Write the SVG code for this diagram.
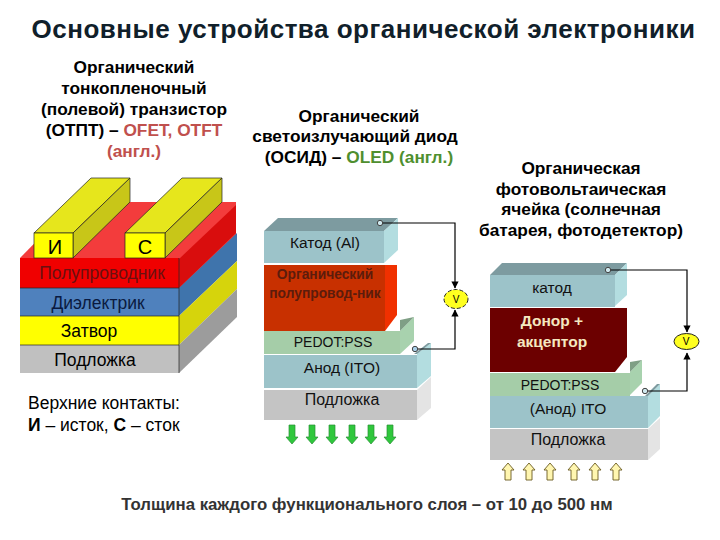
<svg xmlns="http://www.w3.org/2000/svg" width="720" height="540" viewBox="0 0 720 540">
<style>
text{font-family:"Liberation Sans",Arial,sans-serif;text-anchor:middle;fill:#000}
.h{font-weight:bold;font-size:17.3px}
.t{font-size:17.5px}
.s{font-size:15.5px;fill:#111}
.r{fill:#c0504d}
.g{fill:#4f8f2f}
.w{stroke:#000;stroke-width:1.2;fill:none}
.lk{stroke:#222;stroke-width:.7}
</style>
<defs>
<marker id="a" markerWidth="6" markerHeight="6" refX="5.5" refY="3" orient="auto"><path d="M0 0L6 3L0 6Z" fill="#000"/></marker>
<path id="dn" d="M-3 0H3V12H6L0 19L-6 12H-3Z" fill="#2fc73c" stroke="#2a8f35" stroke-width=".7"/>
<path id="up" d="M-3 17H3V7H6L0 0L-6 7H-3Z" fill="#fff6b0" stroke="#6a5a20" stroke-width=".9"/>
</defs>
<rect width="720" height="540" fill="#fff"/>
<text x="363.500" y="38" style="font-size:26px;font-weight:bold;fill:#10202a;letter-spacing:.5px">Основные устройства органической электроники</text>
<g id="title-ofet" class="h">
<text x="134" y="73">Органический</text><text x="134" y="94">тонкопленочный</text><text x="134" y="115">(полевой) транзистор</text>
<text x="134" y="136"><tspan>(ОТПТ) – </tspan><tspan class="r">OFET, OTFT</tspan></text>
<text x="134" y="157" class="r">(англ.)</text>
</g>
<g id="title-oled" class="h">
<text x="359" y="122">Органический</text><text x="355" y="142">светоизлучающий диод</text>
<text x="359" y="163"><tspan>(ОСИД) – </tspan><tspan class="g">OLED (англ.)</tspan></text>
</g>
<g id="title-opv" class="h">
<text x="581" y="174">Органическая</text><text x="581" y="195">фотовольтаическая</text><text x="581" y="215">ячейка (солнечная</text><text x="581" y="236">батарея, фотодетектор)</text>
</g>
<g id="transistor">
<path d="M20 258L75 202H236V256L179 313H20Z" fill="#f33c3c"/>
<path d="M179 259L236 205V233L179 288Z" fill="#d90d0d"/>
<path d="M179 288L237 233V261L179 316Z" fill="#3f74ac"/>
<path d="M179 316L237 261V289L179 345Z" fill="#d6d40c"/>
<path d="M179 345L237 289V317L179 373Z" fill="#9c9c9c"/>
<rect x="20" y="258" width="159" height="30" fill="#f00000"/>
<rect x="20" y="288" width="159" height="28" fill="#4f81bd"/>
<rect x="20" y="316" width="159" height="29" fill="#ffff00"/>
<rect x="20" y="345" width="159" height="28" fill="#c0c0c0"/>
<path d="M20 288H179M20 316H179M20 345H179M179 258V373" class="lk"/>
<g class="lk"><path d="M34 233L91 178H130L73 233Z" fill="#e6e61c"/><path d="M73 233L130 178V202L73 258Z" fill="#c8c618"/><rect x="34" y="233" width="39" height="25" fill="#ff0"/></g>
<g class="lk"><path d="M125 233L182 178H222L165 233Z" fill="#e6e61c"/><path d="M165 233L222 178V202L165 258Z" fill="#c8c618"/><rect x="125" y="233" width="40" height="25" fill="#ff0"/></g>
<text x="55" y="254" style="font-size:20px">И</text><text x="145" y="254" style="font-size:20px">С</text>
<text x="102" y="279" class="t" style="fill:#6a1010">Полупроводник</text>
<text x="98" y="309" class="t" style="fill:#0a1a40">Диэлектрик</text>
<text x="89" y="337" class="t">Затвор</text>
<text x="95" y="366" class="t">Подложка</text>
<text x="28" y="409" class="t" style="text-anchor:start">Верхние контакты:</text>
<text x="28" y="431" class="t" style="text-anchor:start"><tspan font-weight="bold">И</tspan> – исток, <tspan font-weight="bold">С</tspan> – сток</text>
</g>
<g id="oled">
<path d="M264 231L278 218H398L384 231Z" fill="#7d9ba0"/>
<path d="M384 231L398 218V250L384 263Z" fill="#b3dde0"/>
<rect x="264" y="231" width="120" height="32" fill="#9cc3c9"/>
<path d="M264 265H397V315L385 331H264Z" fill="#f03000"/>
<rect x="264" y="265" width="121" height="66" fill="#c83000"/>
<path d="M400 331L414 317V341L400 354Z" fill="#a8d2ae"/><path d="M400 331L414 317L400 320Z" fill="#7f9f85"/>
<rect x="264" y="331" width="136" height="23" fill="#a5cda8"/>
<path d="M417 354L431 343V376L417 388Z" fill="#b3dde0"/>
<path d="M414 354L428 343H431L417 354Z" fill="#7d9ba0"/>
<path d="M264 355H417V388H264Z" fill="#9cc3c9"/>
<path d="M417 390L431 377V408L417 420Z" fill="#e4e4e4"/>
<rect x="264" y="390" width="153" height="30" fill="#c4c4c4"/>
<g id="oled-circuit">
<path d="M380 223H455V288" class="w" marker-end="url(#a)"/>
<path d="M415 349H455V310" class="w" marker-end="url(#a)"/>
<circle cx="380" cy="223" r="2.7" fill="#cfe8ee" stroke="#444"/>
<circle cx="415" cy="349" r="2.7" fill="#a9cfe8" stroke="#444"/>
<ellipse cx="456" cy="299" rx="12" ry="9.500" fill="#ffff20" stroke="#222" stroke-dasharray="4 2"/>
<text x="456" y="303" style="font-size:10px">V</text>
</g>
<text x="325" y="248" class="s">Катод (Al)</text>
<text x="325" y="279" style="font-size:13.8px;font-weight:bold;fill:#5c1c0c">Органический</text>
<text x="325" y="298" style="font-size:13.8px;font-weight:bold;fill:#5c1c0c">полупровод-ник</text>
<text x="333" y="347" style="font-size:14px;fill:#111">PEDOT:PSS</text>
<text x="342" y="373" class="s">Анод (ITO)</text>
<text x="342" y="405" style="font-size:16px;fill:#111">Подложка</text>
<use href="#dn" x="292" y="425"/><use href="#dn" x="312" y="425"/><use href="#dn" x="332" y="425"/><use href="#dn" x="352" y="425"/><use href="#dn" x="371" y="425"/><use href="#dn" x="390" y="425"/>
</g>
<g id="solar">
<path d="M490 275L502 263H627L615 275Z" fill="#7d9ba0"/>
<path d="M615 275L627 263V295L615 306Z" fill="#b3dde0"/>
<rect x="490" y="275" width="125" height="32" fill="#9cc3c9"/>
<path d="M490 308H627V357L615 372H490Z" fill="#6c0000"/>
<path d="M630 372L642 360V383L630 395Z" fill="#a8d2ae"/><path d="M630 372L642 360L630 362Z" fill="#7f9f85"/>
<rect x="490" y="373" width="140" height="23" fill="#a5cda8"/>
<path d="M648 396L660 384V416L648 428Z" fill="#b3dde0"/>
<path d="M645 396L657 384H660L648 396Z" fill="#7d9ba0"/>
<path d="M490 396H648V428H490Z" fill="#9cc3c9"/>
<path d="M648 429L660 418V449L648 460Z" fill="#e4e4e4"/>
<rect x="490" y="429" width="158" height="31" fill="#c4c4c4"/>
<g id="solar-circuit">
<path d="M608 270H687V332" class="w" marker-end="url(#a)"/>
<path d="M645 391H687V353" class="w" marker-end="url(#a)"/>
<circle cx="608" cy="270" r="2.7" fill="#cfe8ee" stroke="#444"/>
<circle cx="645" cy="391" r="2.7" fill="#cfe8ee" stroke="#444"/>
<ellipse cx="686.500" cy="341.500" rx="12.500" ry="8" fill="#ffff20" stroke="#222"/>
<text x="686" y="345" style="font-size:10px">V</text>
</g>
<text x="552" y="293" class="s">катод</text>
<text x="552" y="326" style="font-size:15.5px;font-weight:bold;fill:#f4e8c0">Донор +</text>
<text x="552" y="347" style="font-size:15.5px;font-weight:bold;fill:#f4e8c0">акцептор</text>
<text x="560" y="390" style="font-size:14px;fill:#111">PEDOT:PSS</text>
<text x="568" y="414" class="s">(Анод) ITO</text>
<text x="568" y="445" style="font-size:16px;fill:#111">Подложка</text>
<use href="#up" x="508" y="463"/><use href="#up" x="529" y="463"/><use href="#up" x="550" y="463"/><use href="#up" x="574" y="463"/><use href="#up" x="595" y="463"/><use href="#up" x="616" y="463"/>
</g>
<text x="367" y="510" style="font-size:16.8px;font-weight:bold;fill:#333">Толщина каждого функционального слоя – от 10 до 500 нм</text>
</svg>
